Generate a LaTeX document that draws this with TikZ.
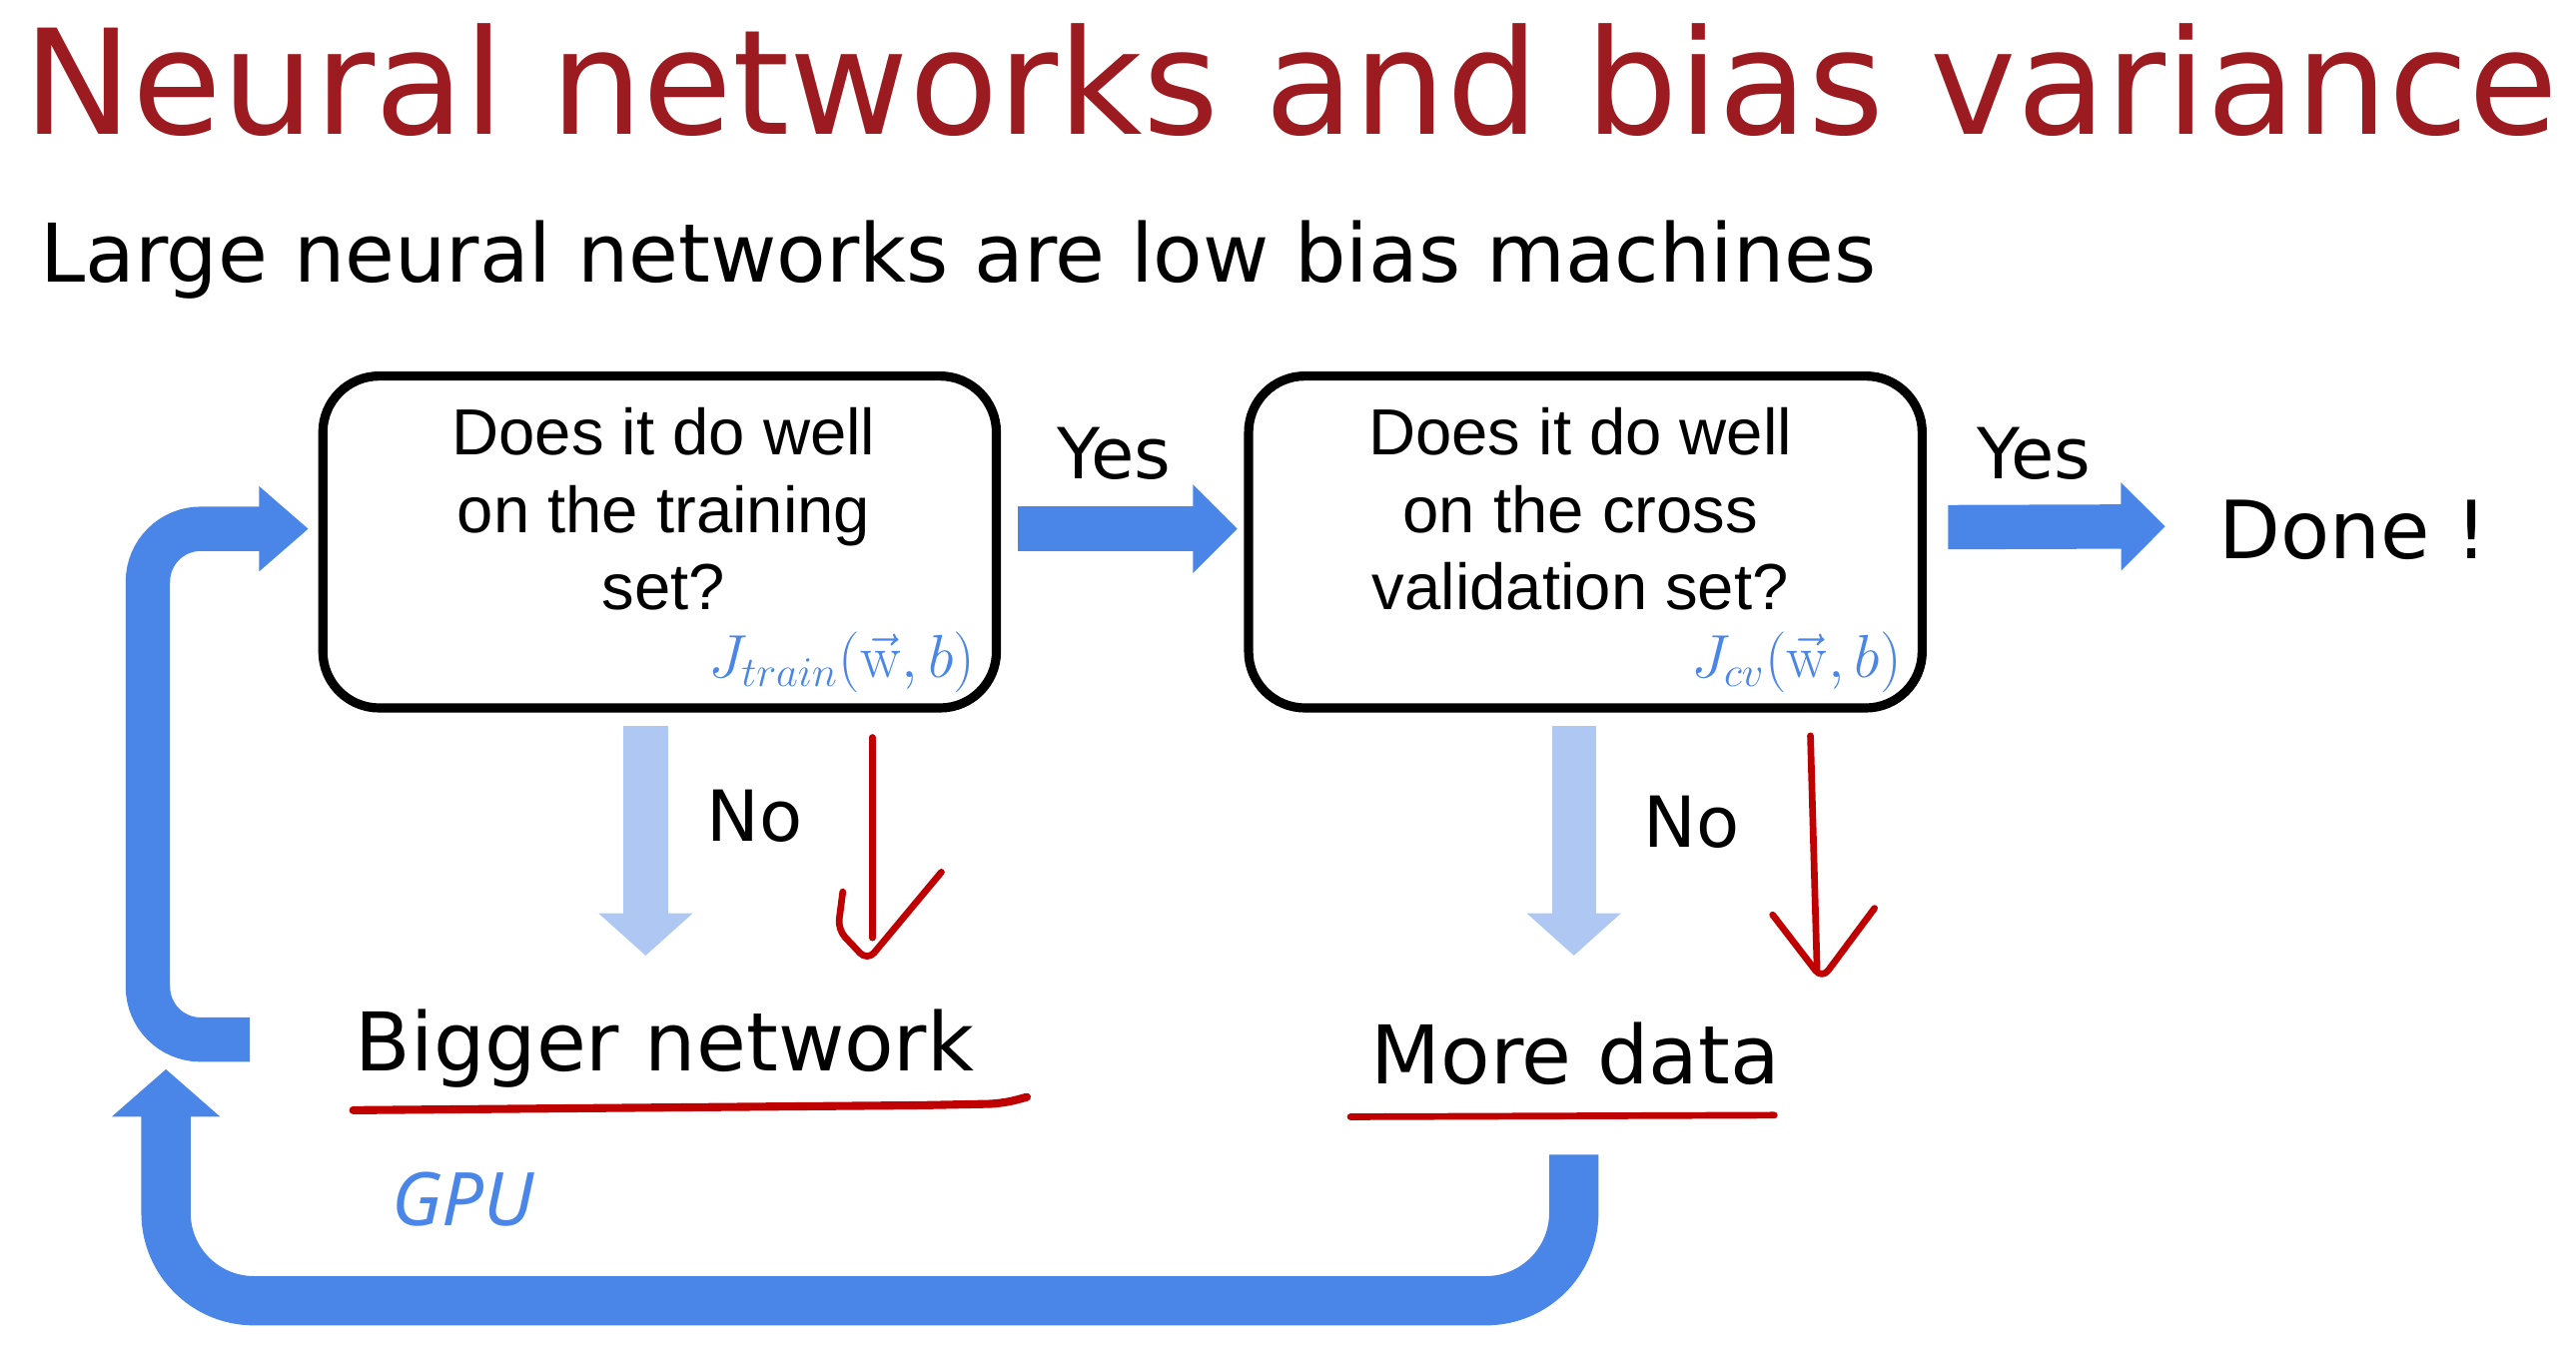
\documentclass[tikz,border=0pt]{standalone}
\usepackage[no-math]{fontspec}
\setmainfont{DejaVu Sans}
\newfontfamily\arialf{Liberation Sans}
\newfontfamily\gpuf{Noto Sans}
\usetikzlibrary{arrows.meta,calc}
\definecolor{titlered}{HTML}{9B1B20}
\definecolor{gblue}{HTML}{4A86E8}
\definecolor{lblue}{HTML}{AFC8F3}
\definecolor{penred}{HTML}{C00000}
\begin{document}
\begin{tikzpicture}[x=0.4666pt,y=-0.4666pt,
  qbox/.style={draw=black,line width=2.6pt,rounded corners=16pt,minimum width=191.3pt,minimum height=94.3pt,inner sep=0pt},
  qtext/.style={font=\arialf\fontsize{18.5}{22}\selectfont,align=center,inner sep=0pt},
  lbl/.style={inner sep=0pt,font=\fontsize{20}{24}\selectfont},
  jlbl/.style={inner sep=0pt,text=gblue,font=\fontsize{17.2}{20}\selectfont},
  yesarrow/.style={draw=gblue,line width=12.6pt,-{Triangle[length=12.6pt,width=24.3pt]}},
  noarrow/.style={draw=lblue,line width=12.6pt,-{Triangle[length=12pt,width=26pt]}},
  looparrow/.style={draw=gblue,line width=12.6pt,rounded corners=15pt,-{Triangle[length=14pt,width=23.3pt]}},
  bigloop/.style={draw=gblue,line width=14pt,rounded corners=25pt,-{Triangle[length=13.5pt,width=30pt]}},
  pen/.style={draw=penred,line width=1.9pt,line cap=round,line join=round},
]
\useasboundingbox[fill=white] (0,0) rectangle (1568,821);

% titles
\node[anchor=base west,inner sep=0pt,text=titlered,font=\fontsize{41.4}{48}\selectfont] (title) at (14,82) {Neural networks and bias variance};
\node[anchor=base west,inner sep=0pt,font=\fontsize{23}{28}\selectfont] (sub) at (24,172) {Large neural networks are low bias machines};

% boxes
\node[qbox] (box1) at (401.5,330) {};
\node[qbox] (box2) at (965,330) {};
\node[qtext] (q1) at (404,310) {Does it do well\\on the training\\set?};
\node[qtext] (q2) at (962,310) {Does it do well\\on the cross\\validation set?};
\node[jlbl,anchor=east] (j1) at (594,403) {$J_{train}(\vec{\mathrm{w}},b)$};
\node[jlbl,anchor=east] (j2) at (1158,403) {$J_{cv}(\vec{\mathrm{w}},b)$};

% yes
\node[lbl] (yes1) at (678,276) {Yes};
\node[lbl] (yes2) at (1238,276) {Yes};
\node[anchor=base west,inner sep=0pt,font=\fontsize{22.8}{27}\selectfont] (done) at (1350,340) {Done !};
\draw[yesarrow] ($(box1.east)+(10,-8)$) -- ($(box2.west)+(-4,-8)$);
\draw[yesarrow] ($(box2.east)+(13,-9)$) -- ($(done.west)+(-32,-2)$);

% no
\node[lbl,anchor=base west] (no1) at (430,512) {No};
\node[lbl,anchor=base west] (no2) at (1000,516) {No};
\node[anchor=base west,inner sep=0pt,font=\fontsize{23}{28}\selectfont] (bignet) at (216,652) {Bigger network};
\node[anchor=base west,inner sep=0pt,font=\fontsize{23}{28}\selectfont] (moredata) at (834,660) {More data};
\draw[noarrow] ($(box1.south)+(-8.5,8)$) -- ($(box1.south)+(-8.5,148)$);
\draw[noarrow] ($(box2.south)+(-7,8)$) -- ($(box2.south)+(-7,148)$);

% red pen strokes
\draw[pen] (531,449) -- (531,571);
\draw[pen,rounded corners=3pt] (513,543) -- (510,566) -- (528,585) -- (573,531);
\draw[pen] (1102,448) -- (1106,590);
\draw[pen,rounded corners=3pt] (1079,557) -- (1109,596) -- (1141,553);
\draw[pen,line width=2.3pt,rounded corners=4pt] (215,676) -- (560,673) -- (610,672) -- (625,668);
\draw[pen] (822,680) -- (1080,679);

% GPU
\node[anchor=base west,inner sep=0pt,text=gblue,font=\gpuf\itshape\fontsize{21}{25}\selectfont] (gpu) at (238,746) {GPU};

% loops
\coordinate (l1s) at (152,633);
\draw[looparrow] (l1s) -- (90,633) -- (90,322) -- ($(box1.west)+(-6,-8)$);
\coordinate (l2s) at (958,703);
\coordinate (l2e) at (101,651);
\draw[bigloop] (l2s) -- (958,792) -- (101,792) -- (l2e);
\end{tikzpicture}
\end{document}
